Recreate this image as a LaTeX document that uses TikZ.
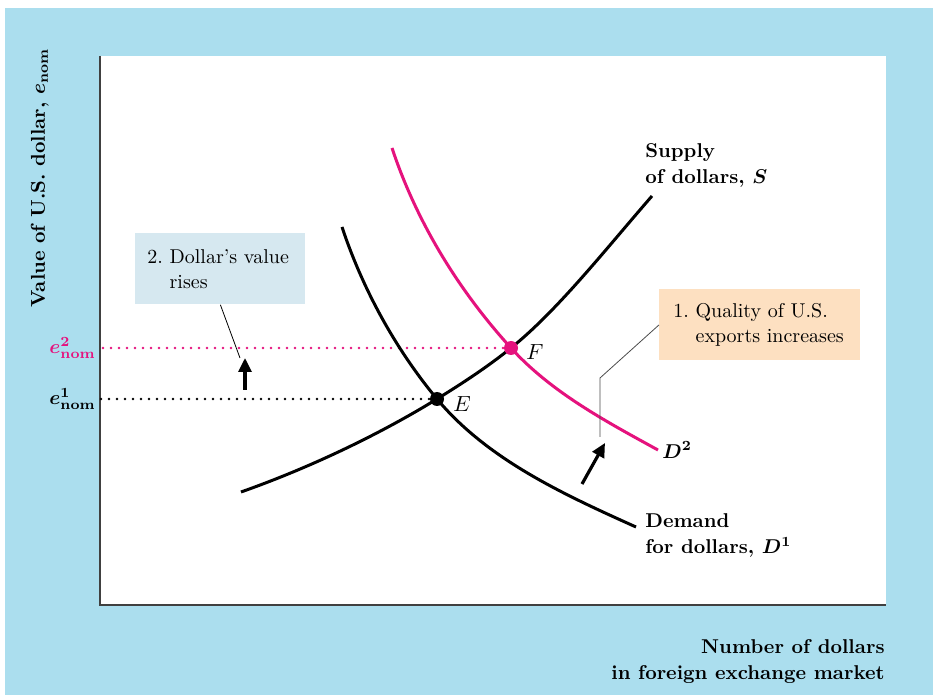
\documentclass[tikz,border=0pt]{standalone}
\usepackage{bm}
\usetikzlibrary{positioning, arrows.meta}
\definecolor{fxBlue}{HTML}{ABDEEE}
\definecolor{fxPink}{HTML}{E5127D}
\definecolor{fxNote}{HTML}{D6E8F0}
\definecolor{fxPeach}{HTML}{FDE0C1}
\begin{document}
\begin{tikzpicture}[x=0.5pt, y=-0.5pt,
  curve/.style={line width=1.5pt},
  guide/.style={line width=1.4pt, dash pattern=on 0pt off 4pt, line cap=round},
  note/.style={anchor=north west, align=left, inner xsep=6pt, minimum height=35.5pt, font=\fontsize{10}{12.5}\selectfont},
  lab/.style={font=\bfseries\fontsize{10}{13}\selectfont, align=left, inner sep=0pt},
  movearrow/.style={line width=1.6pt, -{Triangle[length=7pt, width=6.5pt]}},
  leader/.style={line width=0.4pt}
]
\useasboundingbox (0,0) rectangle (933,695);
\fill[fxBlue] (5,8) rectangle (933,695);
\fill[white] (100,56) rectangle (886,605);

% axes
\coordinate (O) at (100,605);
\coordinate (ytop) at (100,56);
\coordinate (xend) at (886,605);
\draw[line width=0.8pt, black!75] (ytop) -- (O) -- (xend);

\node[lab, rotate=90, anchor=base] (ylab) at (45,178) {Value of U.S. dollar, $\bm{e}_{\mathbf{nom}}$};
\node[lab, anchor=north east, align=right] (xlab) at (885,639) {Number of dollars\\in foreign exchange market};

% equilibria
\coordinate (E) at (437,399);
\coordinate (F) at (511,348);

\draw[guide] (E) -- (E -| O);
\draw[guide, fxPink] (F) -- (F -| O);
\node[lab, anchor=east] (e1) at (96,399) {$\bm{e}^{\mathbf{1}}_{\mathbf{nom}}$};
\node[lab, anchor=east, text=fxPink] (e2) at (96,348) {$\bm{e}^{\mathbf{2}}_{\mathbf{nom}}$};

% curves
\coordinate (s0) at (241,492);
\coordinate (s1) at (652,196);
\coordinate (d0) at (342,227);
\coordinate (d1) at (636,527);
\coordinate (n0) at (392,148);
\coordinate (n1) at (658,450);
\draw[curve] (s0) .. controls (306,469) and (375,437) .. (E)
  .. controls (462,383.5) and (486,368) .. (F)
  .. controls (558,310) and (605,250) .. (s1);
\draw[curve] (d0) .. controls (362.5,288.7) and (395.4,349) .. (E)
  .. controls (487.6,459.7) and (564,494.6) .. (d1);
\draw[curve, fxPink] (n0) .. controls (416.6,222) and (458.5,290.3) .. (F)
  .. controls (551.4,392.4) and (605.4,421.1) .. (n1);

\fill (E) circle[radius=3.5pt];
\fill[fxPink] (F) circle[radius=3.5pt];
\node[font=\fontsize{11}{13}\selectfont] (Elab) at (462,404) {$E$};
\node[font=\fontsize{11}{13}\selectfont] (Flab) at (535,352) {$F$};

\node[lab, anchor=north west] (slab) at (645,143) {Supply\\of dollars, $\bm{S}$};
\node[lab, anchor=north west] (dlab) at (645,513) {Demand\\for dollars, $\bm{D}^{\mathbf{1}}$};
\node[lab, anchor=west] (d2lab) at (662,450) {$\bm{D}^{\mathbf{2}}$};

% notes
\node[note, fill=fxNote, text width=73pt] (box2) at (135,233) {2.\ Dollar's value\\\phantom{2.\ }rises};
\node[note, fill=fxPeach, inner xsep=7pt, text width=86.5pt] (box1) at (659,289) {1.\ Quality of U.S.\\\phantom{1.\ }exports increases};

\coordinate (tip2) at (240,358);
\draw[leader] (box2.south) -- (tip2);
\coordinate (bend1) at (600,378);
\coordinate (tip1) at (600,437);
\draw[leader, black!70] (box1.west) -- (bend1) -- (tip1);

\coordinate (up1) at (245,390);
\coordinate (up2) at (245,358);
\draw[movearrow] (up1) -- (up2);
\coordinate (sh1) at (582,484);
\coordinate (sh2) at (605,443);
\draw[movearrow] (sh1) -- (sh2);
\end{tikzpicture}
\end{document}
